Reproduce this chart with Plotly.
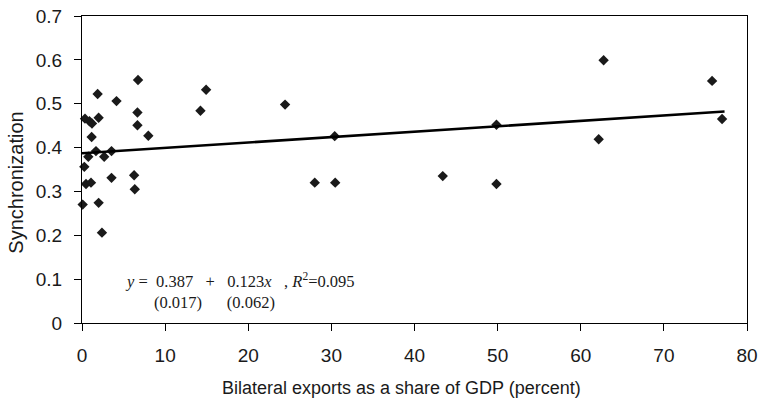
import plotly.graph_objects as go

# Data
exports = [0.08, 0.28, 0.48, 1.08, 2.0, 2.4, 0.76, 1.68, 2.67, 3.55, 3.55, 6.27, 6.35,
           0.36, 0.9, 1.16, 1.2, 2.0, 1.88, 4.15, 6.74, 6.67, 6.67, 7.98,
           14.25, 14.93, 24.43, 28.0, 30.4, 30.46,
           43.4, 49.86, 49.86, 62.16, 62.75, 75.8, 77.0]
synch = [0.27, 0.356, 0.317, 0.32, 0.274, 0.206, 0.379, 0.392, 0.379, 0.392, 0.331, 0.337, 0.305,
         0.466, 0.46, 0.424, 0.455, 0.468, 0.522, 0.506, 0.554, 0.48, 0.451, 0.427,
         0.484, 0.532, 0.498, 0.32, 0.426, 0.32,
         0.335, 0.452, 0.317, 0.419, 0.599, 0.552, 0.465]

intercept = 0.387
slope = 0.123  # per unit share (x in fractions)
fit_x = [0.0, 77.3]
fit_y = [intercept + slope * v / 100 for v in fit_x]

x_ticks = [0, 10, 20, 30, 40, 50, 60, 70, 80]
y_ticks = [0, 0.1, 0.2, 0.3, 0.4, 0.5, 0.6, 0.7]
y_tick_text = ["0", "0.1", "0.2", "0.3", "0.4", "0.5", "0.6", "0.7"]

fig = go.Figure()
fig.add_trace(go.Scatter(x=exports, y=synch, mode="markers",
                         marker=dict(symbol="diamond", size=8, color="#1a1a1a"),
                         showlegend=False, cliponaxis=False))
fig.add_trace(go.Scatter(x=fit_x, y=fit_y, mode="lines",
                         line=dict(color="#000000", width=2.6),
                         showlegend=False))

serif = dict(family="Liberation Serif, Times New Roman, serif", size=16.5, color="#1a1a1a")
fig.add_annotation(x=4.9, y=0.098, xref="x", yref="y", xanchor="left", yanchor="middle",
                   text="<i>y</i> =  0.387   +   0.123<i>x</i>   , <i>R</i><sup>2</sup>=0.095",
                   showarrow=False, font=serif)
fig.add_annotation(x=8.4, y=0.047, xref="x", yref="y", xanchor="left", yanchor="middle",
                   text="(0.017)      (0.062)",
                   showarrow=False, font=serif)

sans = "Liberation Sans, Arial, sans-serif"
# axis titles
fig.add_annotation(x=0.481, y=-0.212, xref="paper", yref="paper", xanchor="center", yanchor="middle",
                   text="Bilateral exports as a share of GDP (percent)", showarrow=False,
                   font=dict(family=sans, size=18, color="#1a1a1a"))
fig.add_annotation(x=-0.0998, y=0.456, xref="paper", yref="paper", xanchor="center", yanchor="middle",
                   text="Synchronization", textangle=-90, showarrow=False,
                   font=dict(family=sans, size=20, color="#1a1a1a"))

axis_font = dict(family=sans, size=19, color="#1a1a1a")
fig.update_xaxes(range=[0, 80], tickvals=x_ticks, ticktext=[str(v) for v in x_ticks],
                 showline=True, linecolor="#000", linewidth=1, mirror=True, automargin=False,
                 ticks="outside", ticklen=7, tickcolor="#000", showgrid=False, zeroline=False,
                 tickfont=axis_font, ticklabelstandoff=8)
fig.update_yaxes(range=[0, 0.7], tickvals=y_ticks, ticktext=y_tick_text,
                 showline=True, linecolor="#000", linewidth=1, mirror=True, automargin=False,
                 ticks="outside", ticklen=7, tickcolor="#000", showgrid=False, zeroline=False,
                 tickfont=axis_font, ticklabelstandoff=8)
fig.update_layout(width=759, height=402, margin=dict(l=81.5, r=11.5, t=16, b=79),
                  plot_bgcolor="white", paper_bgcolor="white")

fig.write_html("out.html")
